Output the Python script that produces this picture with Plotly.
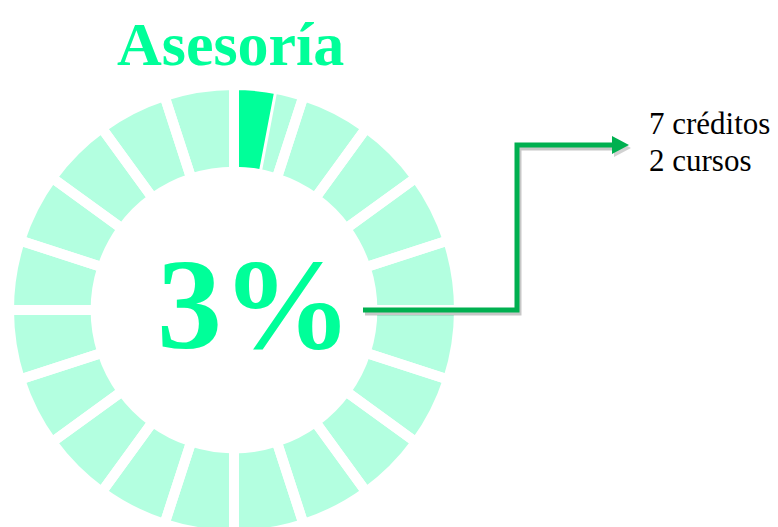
import plotly.graph_objects as go

W, H = 778, 527
OFF = 8  # margen por defecto del <body> en la página

# Datos
titulo = 'Asesoría'
porcentaje = 3
segmentos = [5, 5, 5, 5, 5, 5, 5, 5, 5, 5, 5, 5, 5, 5, 5, 5, 5, 5, 5, 5]
detalle = ['7 créditos', '2 cursos']

verde = '#00FF99'
verde_claro = '#B3FFE0'
verde_flecha = '#00B050'


def px(x, y):
    # pixeles de pantalla -> coordenadas de papel
    return (x - OFF) / W, 1 - (y - OFF) / H


# dominio del anillo (centro en pantalla)
cx, cy, r = 234 - OFF, 310 - OFF, 225
dom = dict(x=[(cx - r) / W, (cx + r) / W], y=[max(0, 1 - (cy + r) / H), 1 - (cy - r) / H])
hueco = 0.615

fig = go.Figure()

# anillo de fondo
fig.add_trace(go.Pie(values=segmentos, domain=dom, hole=hueco, sort=False,
                     direction='clockwise', rotation=0, textinfo='none',
                     hoverinfo='skip', showlegend=False,
                     marker=dict(colors=[verde_claro] * len(segmentos),
                                 line=dict(width=0))))

# porción resaltada
fig.add_trace(go.Pie(values=[porcentaje, 100 - porcentaje], domain=dom, hole=hueco,
                     sort=False, direction='clockwise', rotation=0, textinfo='none',
                     hoverinfo='skip', showlegend=False,
                     marker=dict(colors=[verde, 'rgba(0,0,0,0)'],
                                 line=dict(color='white', width=[3, 0]))))

# separaciones blancas entre segmentos
fig.add_trace(go.Pie(values=segmentos, domain=dom, hole=hueco, sort=False,
                     direction='clockwise', rotation=0, textinfo='none',
                     hoverinfo='skip', showlegend=False,
                     marker=dict(colors=['rgba(0,0,0,0)'] * len(segmentos),
                                 line=dict(color='white', width=10))))


# conector en escalera con sombra
def camino(pts, dx=0, dy=0, cerrar=False):
    s = ''
    for i, (x, y) in enumerate(pts):
        X, Y = px(x + dx, y + dy)
        s += ('M' if i == 0 else 'L') + f'{X:.5f},{Y:.5f} '
    return s + ('Z' if cerrar else '')


ruta = [(363, 310), (517, 310), (517, 145), (614, 145)]
punta = [(612, 136), (629, 145), (612, 154)]

fig.add_shape(type='path', xref='paper', yref='paper', path=camino(ruta, 2, 3),
              line=dict(color='rgba(0,0,0,0.22)', width=5))
fig.add_shape(type='path', xref='paper', yref='paper', path=camino(punta, 2, 3, True),
              fillcolor='rgba(0,0,0,0.18)', line=dict(width=0))
fig.add_shape(type='path', xref='paper', yref='paper', path=camino(ruta),
              line=dict(color=verde_flecha, width=5))
fig.add_shape(type='path', xref='paper', yref='paper', path=camino(punta, cerrar=True),
              fillcolor=verde_flecha, line=dict(width=0))

serif = 'Liberation Serif, Times New Roman, serif'

x, y = px(230, 44)
fig.add_annotation(x=x, y=y, xref='paper', yref='paper', text=f'<b>{titulo}</b>',
                   showarrow=False, xanchor='center', yanchor='middle',
                   font=dict(family=serif, size=62, color=verde))

x, y = px(255, 304)
fig.add_annotation(x=x, y=y, xref='paper', yref='paper', text=f'<b>{porcentaje}%</b>',
                   showarrow=False, xanchor='center', yanchor='middle',
                   font=dict(family=serif, size=130, color=verde))

for i, linea in enumerate(detalle):
    x, y = px(647, 123 + 37 * i)
    fig.add_annotation(x=x, y=y, xref='paper', yref='paper', text=linea,
                       showarrow=False, xanchor='left', yanchor='middle',
                       font=dict(family=serif, size=31, color='black'))

fig.update_layout(width=W, height=H, margin=dict(l=0, r=0, t=0, b=0),
                  paper_bgcolor='white', plot_bgcolor='white',
                  xaxis=dict(visible=False), yaxis=dict(visible=False))

fig.write_html('out.html')
